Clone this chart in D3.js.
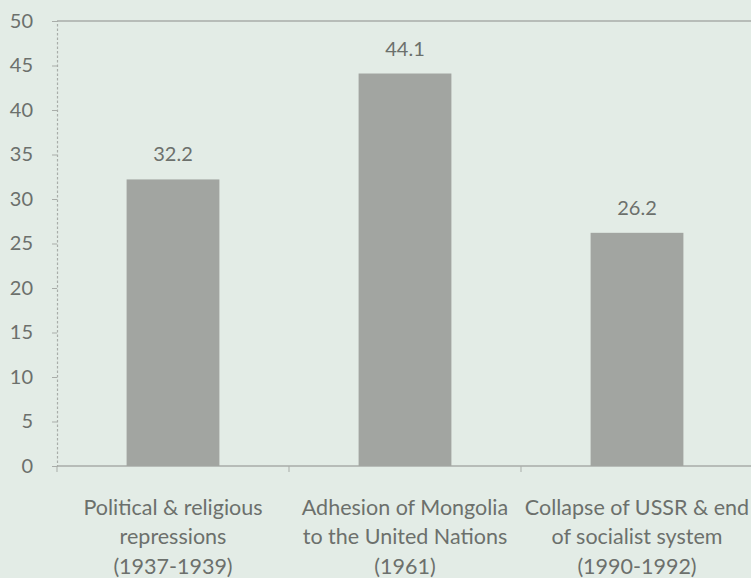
<!DOCTYPE html>
<html><head><meta charset="utf-8">
<script src="https://cdn.jsdelivr.net/npm/d3@7"></script>
<style>
html,body{margin:0;padding:0;background:#e3ece6;}
svg{display:block;}
text{font-family:Lato, "Open Sans", sans-serif;fill:#6c706c;}
</style></head><body>
<svg id="c" width="751" height="578"></svg>
<script>
const categories = [
  ["Political & religious", "repressions", "(1937-1939)"],
  ["Adhesion of Mongolia", "to the United Nations", "(1961)"],
  ["Collapse of USSR & end", "of socialist system", "(1990-1992)"]
];
const values = [32.2, 44.1, 26.2];
const yTicks = [0, 5, 10, 15, 20, 25, 30, 35, 40, 45, 50];

(function(){
const svg = d3.select("#c");
const mLeft = 57, mRight = 753, mTop = 21, mBottom = 466;
const ids = categories.map((c, i) => i);
const x = d3.scaleBand().domain(ids).range([mLeft, mRight]).paddingInner(0.6).paddingOuter(0.3);
const y = d3.scaleLinear().domain([0, 50]).range([mBottom, mTop]);
const lineCol = "#a9ada9";

// top border
svg.append("line").attr("x1", mLeft).attr("x2", 751).attr("y1", y(50)).attr("y2", y(50))
  .attr("stroke", lineCol).attr("stroke-width", 1.3);

// y axis
const ya = svg.append("g").attr("transform", `translate(${mLeft},0)`)
  .call(d3.axisLeft(y).tickValues(yTicks).tickSize(5).tickPadding(19));
ya.select(".domain").attr("stroke", lineCol).attr("stroke-dasharray", "2.5,2").attr("stroke-width", 1.2);
ya.selectAll(".tick line").attr("stroke", lineCol);
ya.selectAll(".tick text").attr("font-size", 20).style("font-family", "Lato, sans-serif").attr("fill", "#6c706c");

// x axis line and separators
svg.append("line").attr("x1", mLeft).attr("x2", 751).attr("y1", mBottom).attr("y2", mBottom)
  .attr("stroke", lineCol).attr("stroke-width", 1.3);
const gap = (x.step() - x.bandwidth()) / 2;
[mLeft, x(1) - gap, x(2) - gap].forEach(px => {
  svg.append("line").attr("x1", px).attr("x2", px).attr("y1", mBottom).attr("y2", mBottom + 6)
    .attr("stroke", lineCol);
});

// bars
svg.selectAll("rect.bar").data(values).enter().append("rect")
  .attr("class", "bar")
  .attr("x", (d, i) => x(i)).attr("width", x.bandwidth())
  .attr("y", d => y(d)).attr("height", d => mBottom - y(d))
  .attr("fill", "#a2a5a1");

// value labels
svg.selectAll("text.val").data(values).enter().append("text")
  .attr("class", "val")
  .attr("x", (d, i) => x(i) + x.bandwidth() / 2)
  .attr("y", d => y(d) - 18)
  .attr("text-anchor", "middle").attr("font-size", 20)
  .text(d => d.toFixed(1));

// category labels
categories.forEach((lines, i) => {
  lines.forEach((t, j) => {
    svg.append("text")
      .attr("x", x(i) + x.bandwidth() / 2)
      .attr("y", 514.5 + j * 29.5)
      .attr("text-anchor", "middle").attr("font-size", 21.5)
      .text(t);
  });
});
})();
</script>
</body></html>
